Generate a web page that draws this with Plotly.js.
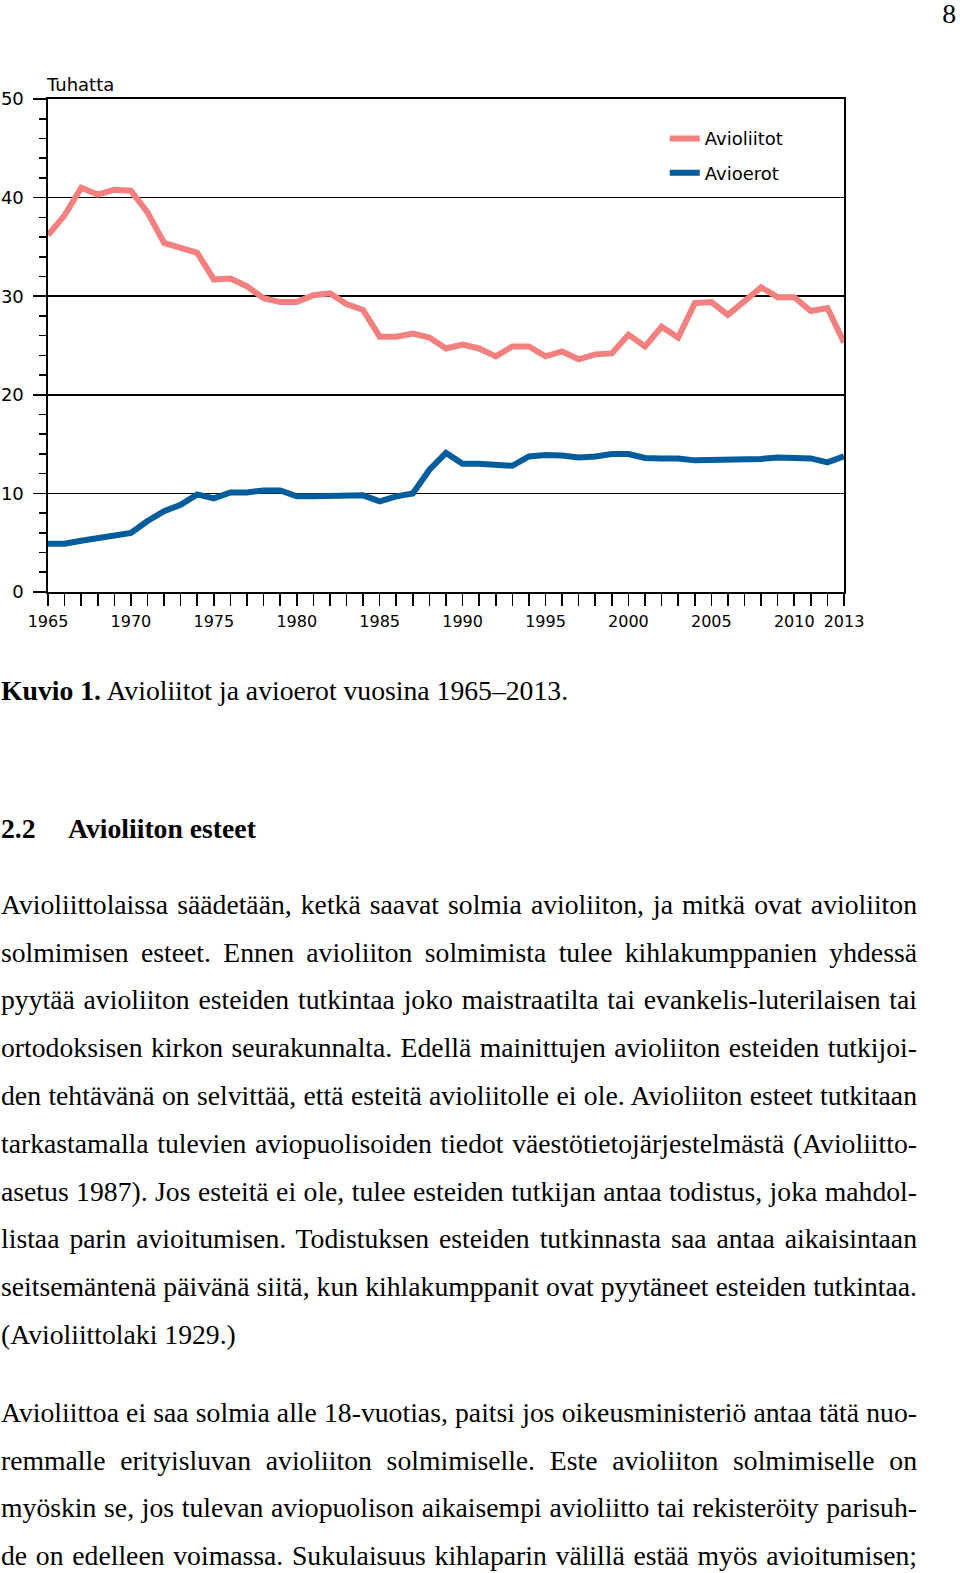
<!DOCTYPE html>
<html>
<head>
<meta charset="utf-8">
<script src="https://cdn.plot.ly/plotly-3.0.1.min.js"></script>
<style>
  html, body { margin: 0; padding: 0; background: #fff; }
  body { width: 960px; height: 1573px; position: relative; overflow: hidden; }
  #chart { position: absolute; left: 0; top: 0; width: 960px; height: 650px; }
  .txt { position: absolute; font-family: "Liberation Serif", "Times New Roman", serif; font-size: 27.7px; line-height: 47.8px; color: #000; white-space: nowrap; }
  .para { left: 1px; width: 916px; }
  .para div { text-align: justify; text-align-last: justify; white-space: nowrap; }
  .para div.last { text-align-last: left; }
  .para div.end { line-height: 32px; margin-top: 7.9px; }
  b { font-weight: bold; }
</style>
</head>
<body>
<div id="chart"></div>

<div class="txt" style="right:3px; top:2px; line-height:24px; padding:0 1px;">8</div>
<div class="txt" style="left:1px; top:667.25px;"><b>Kuvio 1.</b> Avioliitot ja avioerot vuosina 1965–2013.</div>
<div class="txt" style="left:1px; top:804.75px;"><b>2.2</b></div>
<div class="txt" style="left:68px; top:804.75px;"><b>Avioliiton esteet</b></div>

<div class="txt para" style="top:880.75px;">
  <div>Avioliittolaissa säädetään, ketkä saavat solmia avioliiton, ja mitkä ovat avioliiton</div>
  <div>solmimisen esteet. Ennen avioliiton solmimista tulee kihlakumppanien yhdessä</div>
  <div>pyytää avioliiton esteiden tutkintaa joko maistraatilta tai evankelis-luterilaisen tai</div>
  <div>ortodoksisen kirkon seurakunnalta. Edellä mainittujen avioliiton esteiden tutkijoi-</div>
  <div>den tehtävänä on selvittää, että esteitä avioliitolle ei ole. Avioliiton esteet tutkitaan</div>
  <div>tarkastamalla tulevien aviopuolisoiden tiedot väestötietojärjestelmästä (Avioliitto-</div>
  <div>asetus 1987). Jos esteitä ei ole, tulee esteiden tutkijan antaa todistus, joka mahdol-</div>
  <div>listaa parin avioitumisen. Todistuksen esteiden tutkinnasta saa antaa aikaisintaan</div>
  <div>seitsemäntenä päivänä siitä, kun kihlakumppanit ovat pyytäneet esteiden tutkintaa.</div>
  <div class="last">(Avioliittolaki 1929.)</div>
</div>

<div class="txt para" style="top:1388.75px;">
  <div>Avioliittoa ei saa solmia alle 18-vuotias, paitsi jos oikeusministeriö antaa tätä nuo-</div>
  <div>remmalle erityisluvan avioliiton solmimiselle. Este avioliiton solmimiselle on</div>
  <div>myöskin se, jos tulevan aviopuolison aikaisempi avioliitto tai rekisteröity parisuh-</div>
  <div class="end">de on edelleen voimassa. Sukulaisuus kihlaparin välillä estää myös avioitumisen;</div>
</div>

<script>
// ---- data (thousands) ----
const years = [1965,1966,1967,1968,1969,1970,1971,1972,1973,1974,
               1975,1976,1977,1978,1979,1980,1981,1982,1983,1984,
               1985,1986,1987,1988,1989,1990,1991,1992,1993,1994,
               1995,1996,1997,1998,1999,2000,2001,2002,2003,2004,
               2005,2006,2007,2008,2009,2010,2011,2012,2013];

const avioliitot = [36.2,38.2,41.0,40.3,40.8,40.7,38.5,35.4,34.9,34.4,
                    31.7,31.8,31.0,29.8,29.4,29.4,30.1,30.3,29.2,28.6,
                    25.9,25.9,26.2,25.8,24.7,25.1,24.7,23.9,24.9,24.9,
                    23.9,24.4,23.6,24.1,24.2,26.1,24.9,26.9,25.8,29.3,
                    29.4,28.1,29.5,30.9,29.9,29.9,28.5,28.8,25.3];

const avioerot = [4.9,4.9,5.2,5.5,5.8,6.0,7.2,8.2,8.85,9.9,
                  9.5,10.1,10.1,10.3,10.3,9.7,9.7,9.75,9.8,9.8,
                  9.2,9.7,10.0,12.4,14.1,13.0,13.0,12.9,12.8,13.75,
                  13.9,13.85,13.65,13.75,14.0,14.0,13.6,13.55,13.55,13.35,
                  13.35,13.35,13.35,13.5,13.65,13.6,13.55,13.15,13.75];

const xTickVals = [1965,1970,1975,1980,1985,1990,1995,2000,2005,2010,2013];
const xTickText = ["1965","1970","1975","1980","1985","1990","1995","2000","2005","2010","2013"];
const yTickVals = [0,10,20,30,40,50];
const seriesNames = ["Avioliitot","Avioerot"];
const yUnit = "Tuhatta";

const pink = "#f2807f";
const blue = "#035c9c";
const tickFont = "DejaVu Sans, Verdana, sans-serif";

const traces = [
  { x: years, y: avioliitot, name: seriesNames[0], type: "scatter", mode: "lines",
    line: { color: pink, width: 6 }, legendgroup: "a" },
  { x: years, y: avioerot, name: seriesNames[1], type: "scatter", mode: "lines",
    line: { color: blue, width: 6 }, legendgroup: "b" }
];

const layout = {
  width: 960, height: 650,
  margin: { l: 48, r: 116, t: 99.3, b: 57.7, pad: 0 },
  paper_bgcolor: "#fff", plot_bgcolor: "#fff",
  showlegend: true,
  legend: {
    x: 0.7748, xanchor: "left", y: 0.957, yanchor: "top",
    bgcolor: "rgba(0,0,0,0)", borderwidth: 0,
    font: { family: tickFont, size: 18, color: "#000" },
    itemwidth: 30, tracegroupgap: 8, traceorder: "grouped"
  },
  xaxis: {
    range: [1965, 2013], fixedrange: true,
    showgrid: false, zeroline: false,
    showline: true, linecolor: "#000", linewidth: 1.6, mirror: true,
    tickmode: "array", tickvals: xTickVals, ticktext: xTickText,
    ticks: "outside", ticklen: 12, tickwidth: 1.6, tickcolor: "#000",
    ticklabelstandoff: 2,
    minor: { dtick: 1, tick0: 1965, ticks: "outside", ticklen: 12, tickwidth: 1.6, tickcolor: "#000", showgrid: false },
    tickfont: { family: tickFont, size: 16, color: "#000" }
  },
  yaxis: {
    range: [0, 50], fixedrange: true,
    showgrid: true, gridcolor: "#000", gridwidth: 1.6,
    zeroline: false,
    showline: true, linecolor: "#000", linewidth: 1.6, mirror: true,
    tickmode: "array", tickvals: yTickVals,
    ticks: "outside", ticklen: 13, tickwidth: 1.6, tickcolor: "#000",
    ticklabelstandoff: 6,
    minor: { dtick: 2, tick0: 0, ticks: "outside", ticklen: 7, tickwidth: 1.6, tickcolor: "#000", showgrid: false },
    tickfont: { family: tickFont, size: 18, color: "#000" }
  },
  annotations: [
    { text: yUnit, xref: "paper", yref: "paper", x: 0, y: 1, xanchor: "left", yanchor: "bottom",
      xshift: -4, yshift: 2, showarrow: false, font: { family: tickFont, size: 18, color: "#000" } }
  ]
};

Plotly.newPlot("chart", traces, layout, { staticPlot: true, displayModeBar: false });
</script>
</body>
</html>
